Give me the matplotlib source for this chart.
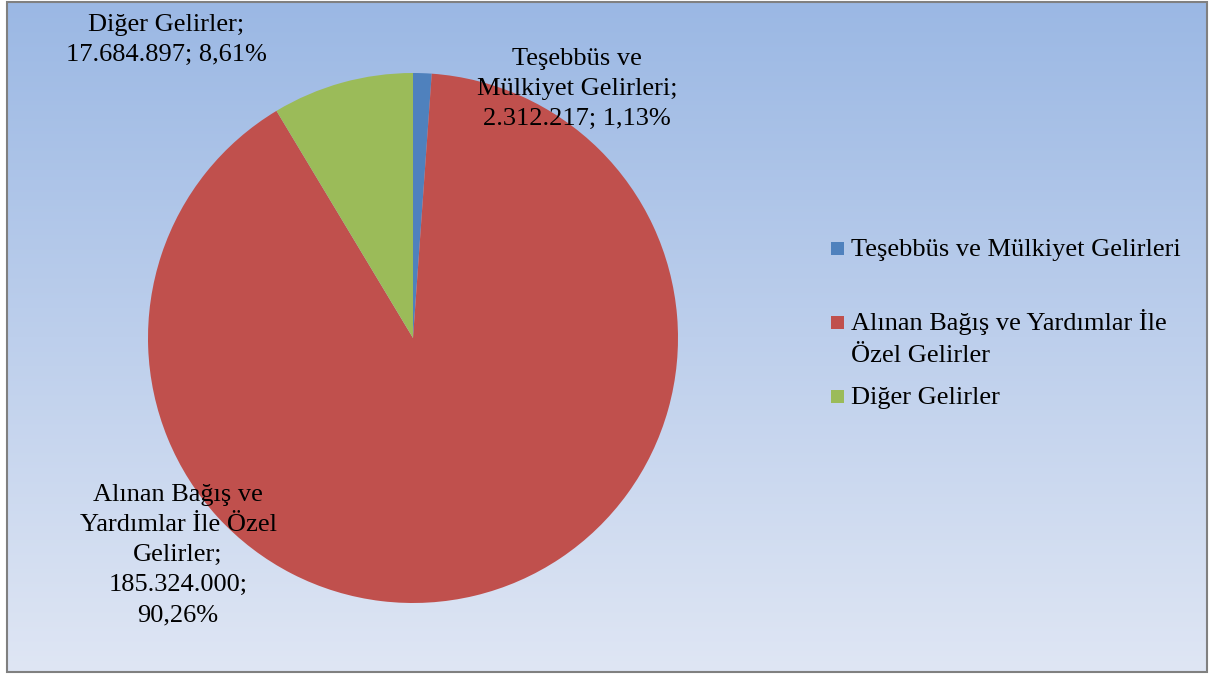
import textwrap

import matplotlib
matplotlib.use("Agg")
import matplotlib.pyplot as plt
import numpy as np
from matplotlib.patches import Rectangle

plt.rcParams['font.family'] = ['Liberation Serif', 'DejaVu Serif']

# data
categories = ["Teşebbüs ve Mülkiyet Gelirleri",
              "Alınan Bağış ve Yardımlar İle Özel Gelirler",
              "Diğer Gelirler"]
amounts = [2312217, 185324000, 17684897]
amount_labels = ["2.312.217", "185.324.000", "17.684.897"]
percent_labels = ["1,13%", "90,26%", "8,61%"]
colors = ["#4f81bd", "#c0504d", "#9bbb59"]

W, H = 1213, 675
FS = 19


def py(y):
    # pixel row (from top) -> data y (from bottom)
    return H - y


fig = plt.figure(figsize=(W / 100, H / 100), dpi=100)
ax = fig.add_axes([0, 0, 1, 1])

# chart area background: vertical gradient
top = np.array([155, 184, 228]) / 255
bottom = np.array([223, 230, 244]) / 255
t = np.linspace(0, 1, 256)[:, None, None]
grad = top + (bottom - top) * t
ax.imshow(grad, extent=(7, 1207, py(672), py(2)), aspect='auto',
          origin='upper', zorder=0, interpolation='bilinear')
ax.add_patch(Rectangle((7, py(672)), 1200, 670, fill=False,
                       edgecolor='#808080', lw=1.5, zorder=5))

wedges, _ = ax.pie(amounts, colors=colors, startangle=90, counterclock=False,
                   center=(413, py(338)), radius=265, frame=True,
                   wedgeprops=dict(linewidth=0, zorder=2))

# data labels: "name; value; percent", wrapped like the original
wrap_widths = [19, 18, 17]
label_pos = [(577, 65), (178, 501), (166, 31)]
for cat, amt, pct, wrap, (lx, ly) in zip(categories, amount_labels, percent_labels,
                                          wrap_widths, label_pos):
    lines = textwrap.wrap(f"{cat}; {amt}; {pct}", width=wrap)
    for i, line in enumerate(lines):
        ax.text(lx, py(ly + 30 * i), line, ha='center', va='baseline',
                fontsize=FS, color='black', zorder=6)

# legend drawn by hand (Excel-style spacing)
legend_lines = [["Teşebbüs ve Mülkiyet Gelirleri"],
                ["Alınan Bağış ve Yardımlar İle", "Özel Gelirler"],
                ["Diğer Gelirler"]]
square_y = [248, 322.5, 396.5]
text_base = [[256], [330, 362], [404]]
for w, lines, sy, bases in zip(wedges, legend_lines, square_y, text_base):
    ax.add_patch(Rectangle((831, py(sy) - 6.5), 13, 13,
                           facecolor=w.get_facecolor(), edgecolor='none', zorder=6))
    for line, b in zip(lines, bases):
        ax.text(851, py(b), line, ha='left', va='baseline', fontsize=FS,
                color='black', zorder=6)

ax.set_xlim(0, W)
ax.set_ylim(0, H)
ax.set_aspect('auto')
ax.axis('off')

fig.savefig("out.png", dpi=100, facecolor='white')
